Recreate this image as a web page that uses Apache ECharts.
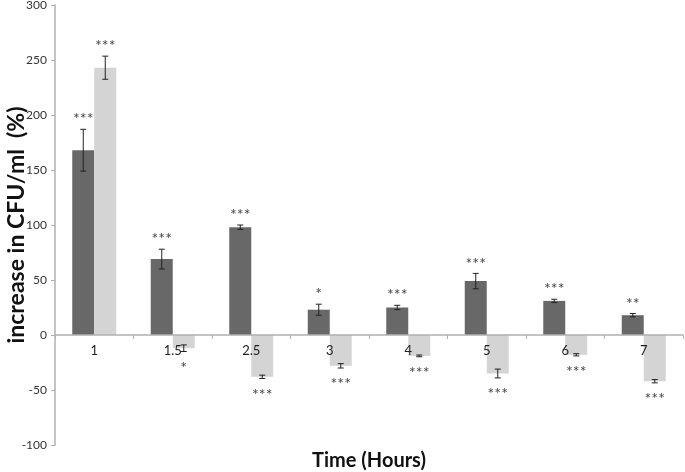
<!DOCTYPE html>
<html><head><meta charset="utf-8">
<script src="https://cdn.jsdelivr.net/npm/echarts@6/dist/echarts.min.js"></script>
<style>html,body{margin:0;padding:0;background:#fff}#c{width:685px;height:472px}</style>
</head><body><div id="c"></div>
<script>
const categories = ['1', '1.5', '2.5', '3', '4', '5', '6', '7'];
const darkValues = [168, 69, 98, 23, 25, 49, 31, 18];
const darkErrors = [19, 9, 2, 5, 2, 7, 1.5, 1.5];
const darkStars = ['***', '***', '***', '*', '***', '***', '***', '**'];
const lightValues = [243, -12, -38, -28, -19, -35, -18, -42];
const lightErrors = [10.5, 3, 1.5, 2, 0.8, 4, 1, 1.5];
const lightStars = ['***', '*', '***', '***', '***', '***', '***', '***'];
const yTicks = { min: -100, max: 300, interval: 50 };

const BAR_W = 22;
const FONT = 'Lato, "Open Sans", sans-serif';

function errSeries(values, errors, stars, offset) {
  return {
    type: 'custom',
    z: 10,
    data: values.map((v, i) => [i, v, errors[i]]),
    renderItem: function (params, api) {
      const i = api.value(0), v = api.value(1), e = api.value(2);
      const star = stars[i];
      const x = api.coord([i, 0])[0] + offset;
      const top = api.coord([i, v + e])[1];
      const bot = api.coord([i, v - e])[1];
      const cap = 3;
      const st = { stroke: '#222', lineWidth: 1 };
      const children = [
        { type: 'line', shape: { x1: x, y1: top, x2: x, y2: bot }, style: st },
        { type: 'line', shape: { x1: x - cap, y1: top, x2: x + cap, y2: top }, style: st },
        { type: 'line', shape: { x1: x - cap, y1: bot, x2: x + cap, y2: bot }, style: st }
      ];
      if (v >= 0) {
        children.push({ type: 'text', style: { text: star, x: x, y: top - 2, align: 'center', verticalAlign: 'bottom', fill: '#444', font: '16px ' + FONT } });
      } else {
        children.push({ type: 'text', style: { text: star, x: x, y: bot + 8, align: 'center', verticalAlign: 'top', fill: '#444', font: '16px ' + FONT } });
      }
      return { type: 'group', children: children };
    }
  };
}

const chart = echarts.init(document.getElementById('c'), null, { renderer: 'canvas' });
chart.setOption({
  animation: false,
  backgroundColor: '#fff',
  grid: { left: 55, right: 2, top: 5, bottom: 27, containLabel: false, outerBoundsMode: 'none' },
  graphic: [{
    type: 'text', x: 369, y: 461,
    style: { text: 'Time (Hours)', font: 'bold 20px ' + FONT, fill: '#111', align: 'center', verticalAlign: 'middle' }
  }],
  xAxis: {
    type: 'category',
    data: categories,
    offset: -110,
    z: 5,
    axisLine: { onZero: false, lineStyle: { color: '#b0b0b0', width: 1.5 } },
    axisTick: { show: true, length: 4, lineStyle: { color: '#b0b0b0' } },
    axisLabel: { fontFamily: FONT, fontSize: 13, color: '#222', margin: 9 }
  },
  yAxis: {
    type: 'value',
    min: yTicks.min, max: yTicks.max, interval: yTicks.interval,
    name: 'increase in CFU/ml  (%)',
    nameLocation: 'middle',
    nameGap: 27,
    nameMoveOverlap: false,
    nameTextStyle: { fontFamily: FONT, fontWeight: 'bold', fontSize: 23, color: '#111' },
    axisLine: { show: true, lineStyle: { color: '#b0b0b0', width: 1.5 } },
    axisTick: { show: true, length: 4, lineStyle: { color: '#b0b0b0' } },
    splitLine: { show: false },
    axisLabel: { fontFamily: FONT, fontSize: 12, color: '#333', margin: 8 }
  },
  series: [
    { type: 'bar', data: darkValues, barWidth: BAR_W, barGap: '0%', itemStyle: { color: '#686868' } },
    { type: 'bar', data: lightValues, barWidth: BAR_W, barGap: '0%', itemStyle: { color: '#d4d4d4' } },
    errSeries(darkValues, darkErrors, darkStars, -BAR_W / 2),
    errSeries(lightValues, lightErrors, lightStars, BAR_W / 2)
  ]
});
</script></body></html>
